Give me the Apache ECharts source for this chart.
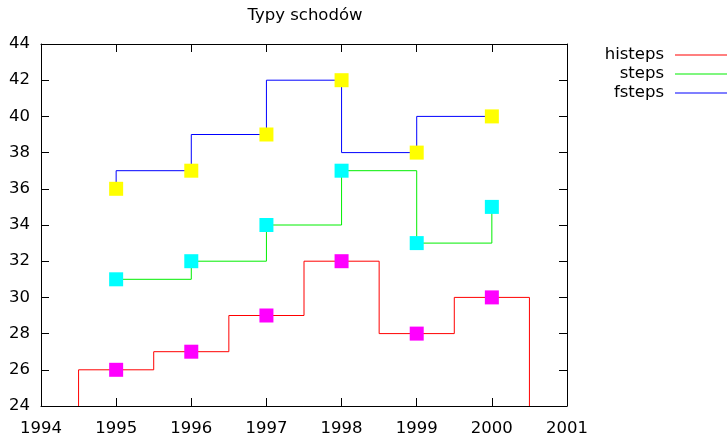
<!DOCTYPE html>
<html>
<head>
<meta charset="utf-8">
<script src="https://cdn.jsdelivr.net/npm/echarts@6/dist/echarts.min.js"></script>
<style>
  html, body { margin: 0; padding: 0; background: #fff; }
  #chart { width: 727px; height: 434px; }
</style>
</head>
<body>
<div id="chart"></div>
<script>
// Year positions and the three series of step values
const years = [1995, 1996, 1997, 1998, 1999, 2000];
const histepsValues = [26, 27, 29, 32, 28, 30];
const stepsValues = [31, 32, 34, 37, 33, 35];
const fstepsValues = [36, 37, 39, 42, 38, 40];
const xTicks = [1994, 1995, 1996, 1997, 1998, 1999, 2000, 2001];
const yTicks = [24, 26, 28, 30, 32, 34, 36, 38, 40, 42, 44];

const xMin = xTicks[0], xMax = xTicks[xTicks.length - 1];
const yMin = yTicks[0], yMax = yTicks[yTicks.length - 1];

// Histogram-style steps: each value spans half-way to its neighbours,
// with the outer ends dropping to the bottom of the axis.
function histepsPath(xs, ys, base) {
  const pts = [];
  const n = xs.length;
  const edge = i => {
    if (i === 0) return xs[0] - (xs[1] - xs[0]) / 2;
    if (i === n) return xs[n - 1] + (xs[n - 1] - xs[n - 2]) / 2;
    return (xs[i - 1] + xs[i]) / 2;
  };
  pts.push([edge(0), base]);
  for (let i = 0; i < n; i++) {
    pts.push([edge(i), ys[i]]);
    pts.push([edge(i + 1), ys[i]]);
  }
  pts.push([edge(n), base]);
  return pts;
}

const pairs = (xs, ys) => xs.map((x, i) => [x, ys[i]]);

const chart = echarts.init(document.getElementById('chart'), null, { renderer: 'canvas' });
const font = 'DejaVu Sans';
const textColor = '#000';
const colors = { histeps: '#ff0000', steps: '#00ee00', fsteps: '#0000ff' };

const baseAxis = {
  axisLine: { show: true, onZero: false, lineStyle: { color: '#000', width: 1 } },
  axisTick: { show: true, inside: true, length: 8, lineStyle: { color: '#000', width: 1 } },
  splitLine: { show: false }
};

chart.setOption({
  animation: false,
  backgroundColor: '#fff',
  textStyle: { fontFamily: font },
  title: {
    text: 'Typy schodów',
    left: 300, top: 2,
    textAlign: 'center',
    textStyle: { fontFamily: font, fontSize: 16.5, fontWeight: 'normal', color: textColor }
  },
  legend: {
    orient: 'vertical',
    align: 'right',
    right: 0, top: 45.5,
    padding: 0,
    itemWidth: 52, itemHeight: 1, itemGap: 0,
    icon: 'rect',
    data: ['histeps', 'steps', 'fsteps'].map(n => ({ name: n, itemStyle: { color: colors[n] } })),
    textStyle: { fontFamily: font, fontSize: 16.5, lineHeight: 19, color: textColor, padding: [0, 6, 0, 0] }
  },
  grid: { left: 41, right: 160, top: 44, bottom: 28, containLabel: false, outerBoundsMode: 'none' },
  xAxis: [
    Object.assign({}, baseAxis, {
      type: 'value', min: xMin, max: xMax, interval: 1, position: 'bottom',
      axisLabel: { show: true, margin: 14, fontFamily: font, fontSize: 16.5, color: textColor, formatter: v => String(v) }
    }),
    Object.assign({}, baseAxis, {
      type: 'value', min: xMin, max: xMax, interval: 1, position: 'top',
      axisLabel: { show: false }
    })
  ],
  yAxis: [
    Object.assign({}, baseAxis, {
      type: 'value', min: yMin, max: yMax, interval: 2, position: 'left',
      axisLabel: { show: true, margin: 11, fontFamily: font, fontSize: 16.5, color: textColor }
    }),
    Object.assign({}, baseAxis, {
      type: 'value', min: yMin, max: yMax, interval: 2, position: 'right',
      axisLabel: { show: false }
    })
  ],
  series: [
    {
      name: 'histeps', type: 'line',
      data: histepsPath(years, histepsValues, yMin),
      showSymbol: false, symbol: 'none',
      lineStyle: { color: colors.histeps, width: 1 }, itemStyle: { color: colors.histeps },
      z: 2
    },
    {
      type: 'scatter', data: pairs(years, histepsValues),
      symbol: 'rect', symbolSize: 14, itemStyle: { color: '#ff00ff', opacity: 1 }, z: 3
    },
    {
      name: 'steps', type: 'line', step: 'end',
      data: pairs(years, stepsValues),
      showSymbol: false, symbol: 'none',
      lineStyle: { color: colors.steps, width: 1 }, itemStyle: { color: colors.steps },
      z: 2
    },
    {
      type: 'scatter', data: pairs(years, stepsValues),
      symbol: 'rect', symbolSize: 14, itemStyle: { color: '#00ffff', opacity: 1 }, z: 3
    },
    {
      name: 'fsteps', type: 'line', step: 'start',
      data: pairs(years, fstepsValues),
      showSymbol: false, symbol: 'none',
      lineStyle: { color: colors.fsteps, width: 1 }, itemStyle: { color: colors.fsteps },
      z: 2
    },
    {
      type: 'scatter', data: pairs(years, fstepsValues),
      symbol: 'rect', symbolSize: 14, itemStyle: { color: '#ffff00', opacity: 1 }, z: 3
    }
  ]
});
</script>
</body>
</html>
